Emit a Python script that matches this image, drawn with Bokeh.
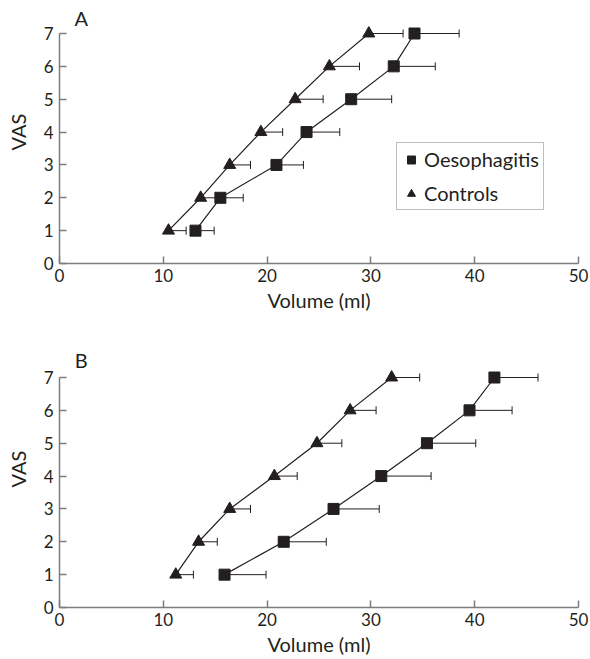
from bokeh.plotting import figure
from bokeh.models import (Range1d, FixedTicker, Whisker, TeeHead, ColumnDataSource,
                          Legend, LegendItem, Label)
from bokeh.layouts import column
from bokeh.embed import file_html
from bokeh.resources import INLINE

# ---- data ----
vas = [1, 2, 3, 4, 5, 6, 7]

a_oes_mean = [13.1, 15.5, 20.9, 23.8, 28.1, 32.2, 34.2]
a_oes_upper = [14.9, 17.7, 23.5, 27.0, 32.0, 36.2, 38.5]
a_ctl_mean = [10.5, 13.6, 16.4, 19.4, 22.7, 26.0, 29.8]
a_ctl_upper = [12.2, 15.4, 18.4, 21.5, 25.4, 28.9, 33.1]

b_oes_mean = [15.9, 21.6, 26.4, 31.0, 35.4, 39.5, 41.9]
b_oes_upper = [19.9, 25.7, 30.8, 35.8, 40.1, 43.6, 46.1]
b_ctl_mean = [11.2, 13.4, 16.4, 20.7, 24.8, 28.0, 32.0]
b_ctl_upper = [12.9, 15.2, 18.4, 22.9, 27.2, 30.5, 34.7]

x_ticks = [0, 10, 20, 30, 40, 50]
y_ticks = [0, 1, 2, 3, 4, 5, 6, 7]

FONT = "Lato"
AX = "#7d7d7d"
INK = "#231f20"
PX_PER_UNIT = 230 / 7


def add_series(p, xs, xu, marker, size):
    src = ColumnDataSource(dict(y=vas, x=xs, xu=xu))
    w = Whisker(source=src, base="y", lower="x", upper="xu", dimension="width",
                line_color=INK, line_width=1,
                upper_head=TeeHead(size=8, line_color=INK, line_width=1),
                lower_head=None)
    p.add_layout(w)
    p.line("x", "y", source=src, line_color=INK, line_width=1.2)
    p.scatter("x", "y", source=src, marker=marker, size=size,
              fill_color=INK, line_color=INK)


def make_panel(letter, oes_m, oes_u, ctl_m, ctl_u, height, top_px, bottom,
               letter_y, with_legend):
    ymax = 7 + top_px / PX_PER_UNIT
    p = figure(width=590, height=height, output_backend="svg", toolbar_location=None,
               x_range=Range1d(0, 50), y_range=Range1d(0, ymax),
               min_border_left=59, min_border_right=12, min_border_top=0,
               min_border_bottom=bottom)
    p.outline_line_color = None
    p.grid.visible = False
    for ax in (p.xaxis[0], p.yaxis[0]):
        ax.axis_line_color = AX
        ax.axis_line_width = 1.5
        ax.major_tick_line_color = AX
        ax.major_tick_line_width = 1.5
        ax.major_tick_in = 7
        ax.major_tick_out = 0
        ax.minor_tick_line_color = None
        ax.major_label_text_font = FONT
        ax.major_label_text_font_size = "17px"
        ax.major_label_text_color = INK
        ax.axis_label_text_font = FONT
        ax.axis_label_text_font_size = "20px"
        ax.axis_label_text_font_style = "normal"
        ax.axis_label_text_color = INK
    p.xaxis.ticker = FixedTicker(ticks=x_ticks)
    p.xaxis.bounds = (0, 50)
    p.xaxis.major_label_standoff = 5
    p.xaxis.axis_label_standoff = 3
    p.yaxis.ticker = FixedTicker(ticks=y_ticks)
    p.yaxis.bounds = (0, 7)
    p.yaxis.major_label_standoff = 6
    p.yaxis.axis_label_standoff = 11
    p.xaxis.axis_label = "Volume (ml)"
    p.yaxis.axis_label = "VAS"

    add_series(p, ctl_m, ctl_u, "triangle", 12)
    add_series(p, oes_m, oes_u, "square", 11)

    p.add_layout(Label(x=2.1, y=letter_y, text=letter, text_font=FONT,
                       text_font_size="20px", text_align="center",
                       text_baseline="middle", text_color=INK))

    if with_legend:
        lo = p.scatter(x=[float("nan")], y=[float("nan")], marker="square", size=9,
                       fill_color=INK, line_color=INK)
        lc = p.scatter(x=[float("nan")], y=[float("nan")], marker="triangle", size=9,
                       fill_color=INK, line_color=INK)
        leg = Legend(items=[LegendItem(label="Oesophagitis", renderers=[lo]),
                            LegendItem(label="Controls", renderers=[lc])],
                     location=(337, 53), margin=0, padding=4, spacing=10,
                     glyph_width=20, glyph_height=23, label_height=23, label_standoff=3,
                     label_text_font=FONT, label_text_font_size="20px",
                     label_text_color=INK, border_line_color=AX, border_line_width=1,
                     background_fill_color="white", background_fill_alpha=1.0)
        p.add_layout(leg)
    return p


pa = make_panel("A", a_oes_mean, a_oes_upper, a_ctl_mean, a_ctl_upper,
                330, 33, 67, 7.46, True)
pb = make_panel("B", b_oes_mean, b_oes_upper, b_ctl_mean, b_ctl_upper,
                329, 47, 52, 7.52, False)

layout = column(pa, pb, spacing=0)
open("out.html", "w").write(file_html(layout, INLINE))
